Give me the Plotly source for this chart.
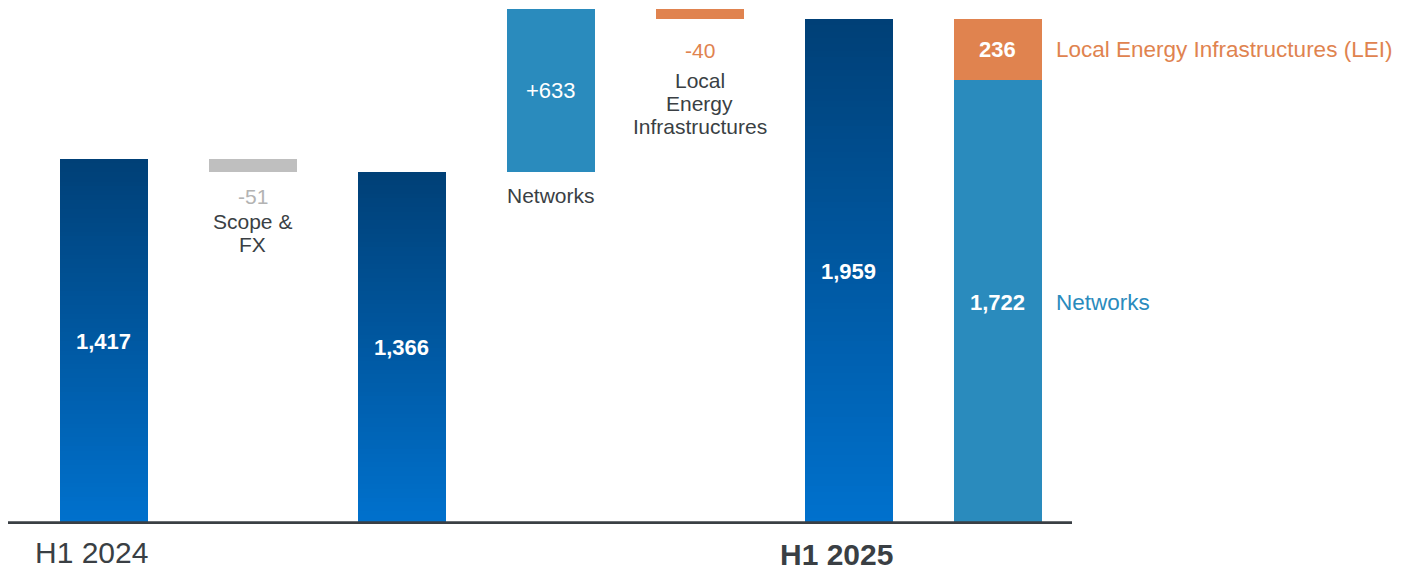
import plotly.graph_objects as go

# ---- data ----
categories = ["H1 2024", "Scope & FX", "H1 2024 adj", "Networks", "LEI", "H1 2025", "H1 2025 split"]
start_value = 1417
scope_fx = -51
networks_delta = 633
lei_delta = -40
end_value = 1959
split_networks = 1722
split_lei = 236

tick_labels = {"H1 2024": "H1 2024", "H1 2025": "<b>H1 2025</b>"}

# ---- derived waterfall values ----
adj_value = start_value + scope_fx                      # 1366
peak = adj_value + networks_delta                       # 1999

FONT = "Arial, Liberation Sans, sans-serif"
DARK = "#3a3f44"
BLUE_NET = "#2a8bbd"
ORANGE = "#e0834f"
GREY = "#bfbfbf"
TOP_C = (0x00, 0x40, 0x77)
BOT_C = (0x00, 0x71, 0xcd)

fig = go.Figure()
W = 0.59

# gradient bars (per-bar vertical gradient, drawn as overlaid layers)
grad_x = [categories[0], categories[2], categories[5]]
grad_v = [start_value, adj_value, end_value]
N = 80
for k in range(N):
    t = k / (N - 1)
    c = tuple(round(BOT_C[i] + (TOP_C[i] - BOT_C[i]) * t) for i in range(3))
    fig.add_trace(go.Bar(
        x=grad_x, y=[v * (1 - k / N) for v in grad_v], base=[v * k / N for v in grad_v],
        width=W, marker=dict(color="rgb(%d,%d,%d)" % c, line=dict(width=0)),
        showlegend=False, hoverinfo="skip"))

# floating delta bars
fig.add_trace(go.Bar(x=[categories[1]], y=[-scope_fx], base=[adj_value], width=W,
                     marker=dict(color=GREY, line=dict(width=0)), showlegend=False))
fig.add_trace(go.Bar(x=[categories[3]], y=[networks_delta], base=[adj_value], width=W,
                     marker=dict(color=BLUE_NET, line=dict(width=0)), showlegend=False))
fig.add_trace(go.Bar(x=[categories[4]], y=[-lei_delta], base=[peak + lei_delta], width=W,
                     marker=dict(color=ORANGE, line=dict(width=0)), showlegend=False))
# stacked split bar
fig.add_trace(go.Bar(x=[categories[6]], y=[split_networks], base=[0], width=W,
                     marker=dict(color=BLUE_NET, line=dict(width=0)), showlegend=False))
fig.add_trace(go.Bar(x=[categories[6]], y=[split_lei], base=[split_networks], width=W,
                     marker=dict(color=ORANGE, line=dict(width=0)), showlegend=False))

ann = []
def A(x, y, text, color, size, yshift=0, xshift=0, xanchor="center"):
    ann.append(dict(x=x, y=y, xref="x", yref="y", text=text, showarrow=False,
                    font=dict(family=FONT, size=size, color=color),
                    xanchor=xanchor, yanchor="middle", yshift=yshift, xshift=xshift))

# values inside bars
A(categories[0], start_value / 2, "<b>{:,}</b>".format(start_value), "white", 22)
A(categories[2], adj_value / 2, "<b>{:,}</b>".format(adj_value), "white", 22)
A(categories[5], end_value / 2, "<b>{:,}</b>".format(end_value), "white", 22)
A(categories[6], split_networks / 2, "<b>{:,}</b>".format(split_networks), "white", 22)
A(categories[6], split_networks + split_lei / 2, "<b>{}</b>".format(split_lei), "white", 22)
A(categories[3], adj_value + networks_delta / 2, "+{}".format(networks_delta), "white", 22)

# delta labels
A(categories[1], adj_value, "{}".format(scope_fx), "#b3b3b3", 21, yshift=-25)
A(categories[1], adj_value, "Scope &", DARK, 21, yshift=-50)
A(categories[1], adj_value, "FX", DARK, 21, yshift=-73)
A(categories[3], adj_value, "Networks", DARK, 21, yshift=-24)
A(categories[4], peak + lei_delta, "{}".format(lei_delta), ORANGE, 21, yshift=-31)
A(categories[4], peak + lei_delta, "Local", DARK, 21, yshift=-61)
A(categories[4], peak + lei_delta, "Energy", DARK, 21, yshift=-84)
A(categories[4], peak + lei_delta, "Infrastructures", DARK, 21, yshift=-107)

# right side legend labels
A(categories[6], split_networks + split_lei / 2, "Local Energy Infrastructures (LEI)", ORANGE, 22.5,
  xshift=56, xanchor="left")
A(categories[6], split_networks / 2, "Networks", BLUE_NET, 22.5, xshift=56, xanchor="left")

# category labels below axis
label_shift = {"H1 2024": -28, "H1 2025": -30}
for cat, lbl in tick_labels.items():
    ann.append(dict(x=cat, y=0, xref="x", yref="y", text=lbl, showarrow=False,
                    font=dict(family=FONT, size=30, color=DARK),
                    xanchor="center", yanchor="middle", yshift=label_shift[cat], xshift=-12))

fig.update_layout(
    width=1403, height=564,
    margin=dict(l=0, r=339, t=0, b=48),
    paper_bgcolor="white", plot_bgcolor="white",
    barmode="overlay", bargap=0,
    annotations=ann,
    xaxis=dict(type="category", categoryorder="array", categoryarray=categories,
               range=[-0.644, 6.497], showticklabels=False, showgrid=False,
               zeroline=False, showline=False, ticks=""),
    yaxis=dict(range=[0, 2002], visible=False, showgrid=False, zeroline=False),
    shapes=[dict(type="line", xref="paper", yref="y", x0=0, x1=1, y0=5, y1=5,
                 line=dict(color=DARK, width=3), layer="above")],
    hovermode=False,
)

fig.write_html("out.html")
